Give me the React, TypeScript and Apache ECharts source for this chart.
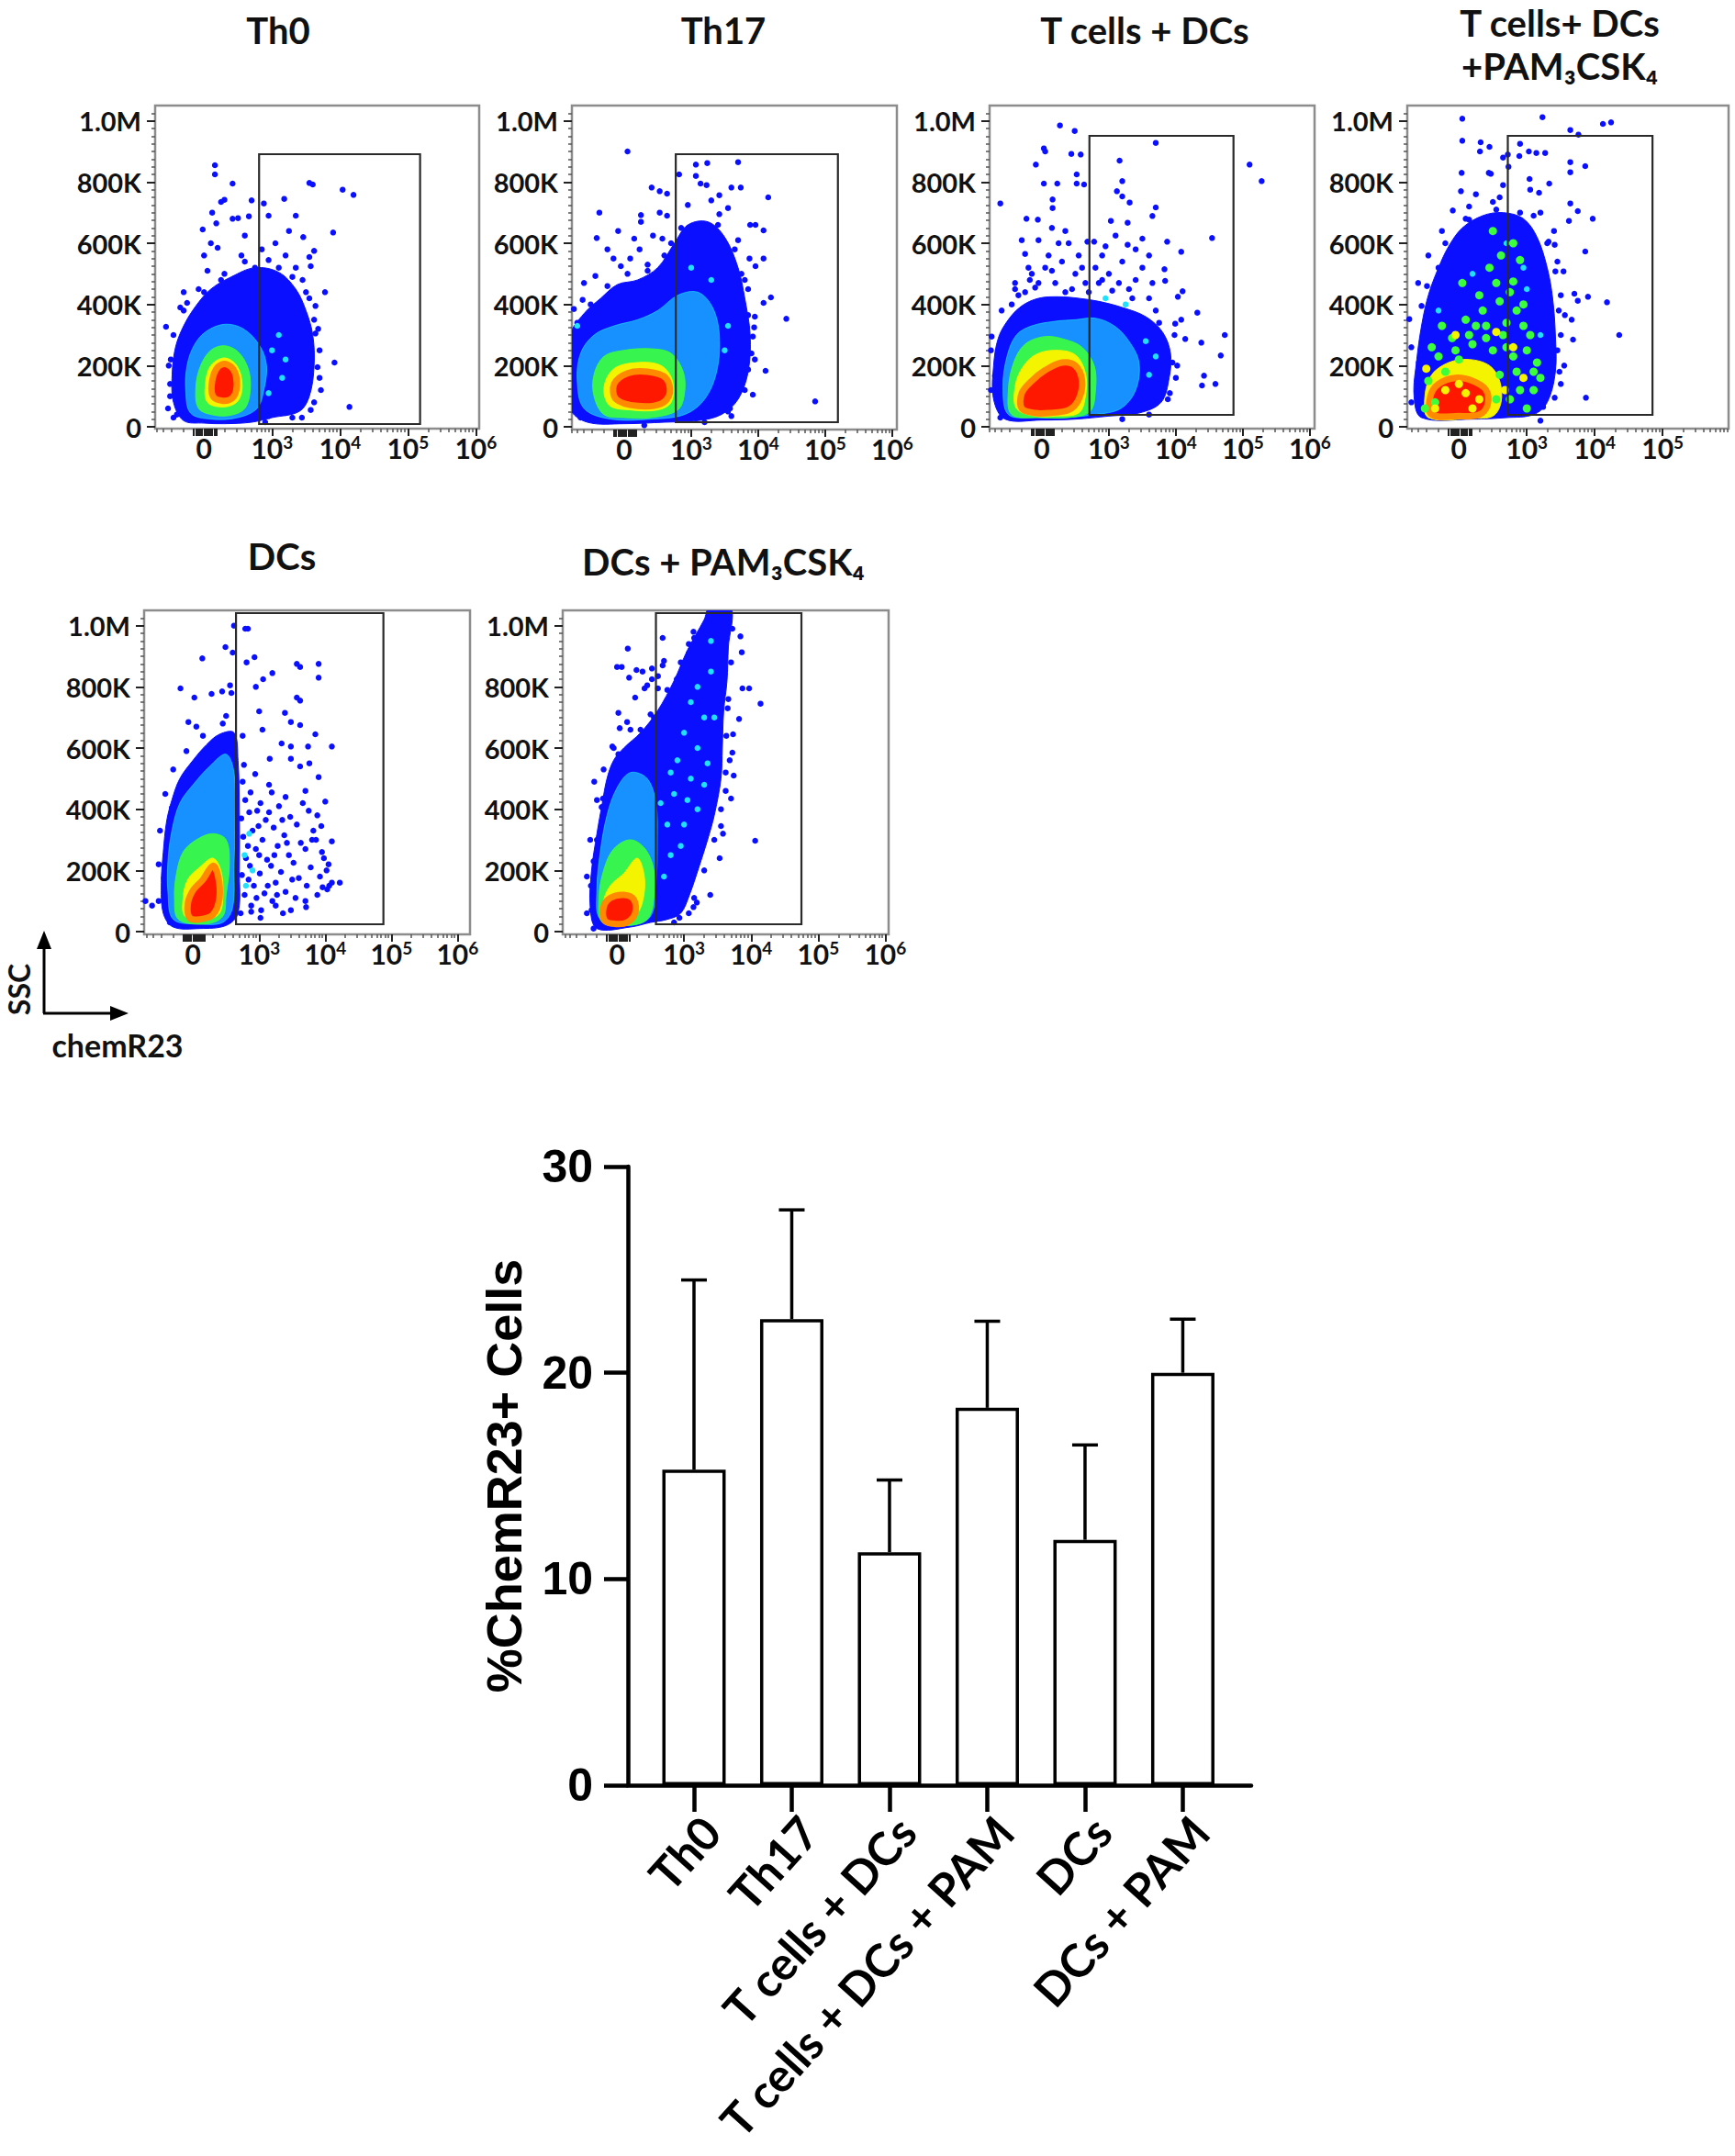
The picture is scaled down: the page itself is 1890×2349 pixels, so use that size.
import React, { useEffect, useRef } from "react";
import * as echarts from "echarts";

const W = 1890;
const H = 2349;
const FLOW_FONT = 'Lato, "Open Sans", "DejaVu Sans", sans-serif';
const BAR_FONT = '"Liberation Sans", Arial, sans-serif';

// ---------------- Bar chart data ----------------
const barCategories = ["Th0", "Th17", "T cells + DCs", "T cells + DCs + PAM", "DCs", "DCs + PAM"];
const barMeans = [15.3, 22.6, 11.3, 18.3, 11.9, 20.0];
const barErrTops = [24.5, 27.9, 14.8, 22.5, 16.5, 22.6];
const barYTicks = [0, 10, 20, 30];

// ---------------- Flow plot axes ----------------
// x in display decades: 0 -> "0", 1 -> 10^3, 2 -> 10^4, 3 -> 10^5, 4 -> 10^6
const flowXTickValues = [0, 1, 2, 3, 4];
const flowXTickExponents = ["", "3", "4", "5", "6"];
const flowYTickValues = [0, 200, 400, 600, 800, 1000];
const flowYTickLabels = ["0", "200K", "400K", "600K", "800K", "1.0M"];

// ---------------- Panel titles ----------------
const panelTitles = [
  { text: "Th0", x: 303, y: 33 },
  { text: "Th17", x: 788, y: 33 },
  { text: "T cells + DCs", x: 1247, y: 33 },
  { text: "T cells+ DCs", x: 1699, y: 25 },
  { text: "+PAM₃CSK₄", x: 1699, y: 72 },
  { text: "DCs", x: 307, y: 606 },
  { text: "DCs + PAM₃CSK₄", x: 788, y: 612 },
];

// =====================================================================
// Each panel: gate [x1, y1, x2, y2]; density contours (blue..red) as outlines;
// individual events as dots. x in display decades, y in K.
// =====================================================================

// ---------------- Th0 ----------------
const th0Gate = [0.81, 9, 3.18, 891];
const th0Blue = [[-0.3, 20], [-0.45, 80], [-0.47, 170], [-0.42, 260], [-0.3, 330], [-0.12, 395], [0.1, 450], [0.4, 490], [0.75, 520], [1.1, 505], [1.35, 450], [1.5, 380], [1.6, 300], [1.62, 200], [1.55, 100], [1.4, 50], [1.0, 30], [0.7, 15], [0.3, 10], [0.0, 12]];
const th0Cyan = [[-0.2, 45], [-0.27, 120], [-0.25, 200], [-0.15, 265], [0.02, 310], [0.3, 335], [0.58, 320], [0.82, 265], [0.92, 200], [0.88, 120], [0.78, 60], [0.5, 30], [0.1, 25]];
const th0Green = [[-0.08, 60], [-0.12, 130], [-0.05, 200], [0.1, 250], [0.3, 265], [0.5, 245], [0.65, 190], [0.68, 120], [0.6, 60], [0.4, 38], [0.15, 38]];
const th0Yellow = [[0.05, 80], [0.02, 140], [0.1, 200], [0.3, 225], [0.48, 200], [0.56, 140], [0.5, 85], [0.3, 65]];
const th0Red = [[0.13, 100], [0.12, 150], [0.2, 195], [0.32, 205], [0.45, 180], [0.48, 130], [0.42, 95], [0.28, 85]];
const th0Dots = [
  [0.16, 855], [0.16, 825], [0.42, 795], [1.55, 797], [1.6, 792], [2.04, 775], [2.2, 758], [1.18, 745],
  [0.88, 730], [0.25, 735], [0.3, 742], [0.42, 680], [0.5, 682], [0.66, 688], [0.95, 690], [1.35, 690],
  [1.9, 635], [1.46, 620], [-0.02, 645], [0.1, 600], [0.2, 585], [0.55, 560], [0.85, 580], [1.05, 600],
  [1.2, 560], [1.55, 555], [1.62, 575], [1.35, 520], [0.05, 510], [0.25, 480], [-0.08, 450], [1.45, 480],
  [1.5, 440], [-0.56, 327], [-0.49, 220], [-0.53, 60], [1.92, 210], [2.14, 65], [1.2, 45], [1.44, 30],
  [1.57, 55], [1.64, 305], [1.67, 195], [1.64, 395], [1.57, 525], [-0.35, 390], [-0.25, 405], [1.7, 250],
  [1.72, 120], [-0.5, 140], [0.0, 560], [0.6, 625], [1.25, 640], [0.7, 740], [0.12, 700], [0.18, 665],
  [-0.1, 380], [1.62, 350], [1.1, 520], [0.75, 520], [0.45, 460], [-0.3, 440], [1.3, 140], [1.45, 95],
  [0.95, 35], [-0.45, 30], [1.78, 440],
  [-0.5, 100], [-0.52, 200], [-0.45, 300], [-0.3, 380], [0.0, 440], [0.3, 500], [0.6, 540], [0.95, 545],
  [1.3, 490], [1.55, 420], [1.68, 320], [1.7, 160], [1.62, 80], [1.3, 30], [0.9, 15], [-0.4, 40],
];
const th0CyanDots = [[1.0, 250], [1.15, 160], [0.95, 110], [1.1, 300], [1.2, 220]];

// ---------------- Th17 ----------------
const th17Gate = [0.77, 15, 3.19, 891];
const th17Blue = [[-0.55, 15], [-0.8, 60], [-0.8, 300], [-0.6, 370], [-0.35, 420], [-0.1, 465], [0.2, 480], [0.5, 520], [0.75, 600], [0.95, 660], [1.25, 670], [1.5, 620], [1.7, 520], [1.8, 420], [1.88, 300], [1.85, 180], [1.7, 90], [1.45, 40], [1.1, 20], [0.6, 15], [0.0, 10]];
const th17Cyan = [[-0.6, 60], [-0.7, 150], [-0.65, 240], [-0.45, 300], [-0.15, 330], [0.2, 350], [0.5, 380], [0.8, 430], [1.1, 440], [1.32, 390], [1.42, 300], [1.38, 180], [1.2, 90], [0.9, 40], [0.4, 25], [-0.2, 25]];
const th17Green = [[-0.3, 40], [-0.45, 100], [-0.45, 170], [-0.3, 230], [0.0, 250], [0.4, 255], [0.7, 240], [0.88, 180], [0.9, 110], [0.8, 55], [0.4, 30], [0.0, 30]];
const th17Yellow = [[-0.22, 70], [-0.3, 130], [-0.15, 190], [0.2, 210], [0.55, 200], [0.72, 150], [0.7, 80], [0.5, 55], [0.1, 55]];
const th17Red = [[-0.12, 90], [-0.15, 140], [0.05, 175], [0.35, 180], [0.62, 160], [0.68, 110], [0.55, 75], [0.2, 68]];
const th17Dots = [
  [0.05, 900], [-0.37, 700], [-0.41, 617], [-0.43, 493], [-0.62, 415], [-0.75, 385], [0.41, 782], [0.53, 770],
  [0.64, 762], [1.07, 857], [1.24, 862], [1.7, 865], [1.07, 820], [0.82, 825], [1.14, 795], [1.23, 790],
  [1.42, 757], [1.6, 782], [1.74, 782], [2.15, 750], [0.25, 692], [0.25, 670], [0.53, 700], [0.64, 690],
  [0.43, 625], [0.57, 615], [1.96, 660], [1.88, 660], [2.08, 642], [2.08, 550], [1.96, 525], [1.87, 550],
  [2.19, 423], [2.08, 405], [2.42, 353], [1.85, 365], [1.94, 325], [1.92, 295], [1.85, 187], [2.11, 183],
  [1.92, 105], [2.85, 83], [1.58, 60], [1.6, 35], [-0.05, 20], [-0.32, 30], [-0.09, 640], [0.09, 550],
  [-0.16, 550], [-0.05, 525], [0.23, 580], [1.42, 695], [1.55, 715], [0.7, 600], [0.15, 615], [-0.25, 580],
  [0.35, 530], [1.7, 610], [1.75, 500], [1.85, 450], [1.9, 240], [-0.6, 470], [0.95, 725], [1.3, 740],
  [-0.7, 340], [-0.5, 400], [-0.25, 460], [0.05, 500], [0.35, 510], [0.6, 560], [0.85, 650], [1.4, 660],
  [1.65, 580], [1.8, 480], [1.95, 360], [1.95, 220], [1.8, 120], [1.55, 50], [1.2, 15], [0.3, 5], [-0.65, 30],
];
const th17CyanDots = [[1.5, 250], [1.55, 330], [1.3, 480], [1.0, 520], [-0.7, 330]];

// ---------------- T cells + DCs ----------------
const tdcGate = [0.71, 39, 2.86, 951];
const tdcBlue = [[-0.55, 25], [-0.72, 90], [-0.72, 200], [-0.65, 290], [-0.5, 350], [-0.3, 395], [-0.05, 420], [0.25, 425], [0.55, 420], [0.85, 410], [1.2, 390], [1.55, 360], [1.8, 310], [1.92, 240], [1.9, 160], [1.78, 80], [1.45, 45], [1.0, 35], [0.5, 25], [0.0, 22]];
const tdcCyan = [[-0.5, 40], [-0.58, 130], [-0.52, 230], [-0.38, 300], [-0.15, 330], [0.2, 345], [0.5, 350], [0.8, 355], [1.08, 330], [1.3, 280], [1.45, 210], [1.4, 120], [1.18, 60], [0.8, 40], [0.3, 30], [-0.1, 30]];
const tdcGreen = [[-0.45, 40], [-0.5, 120], [-0.42, 210], [-0.25, 270], [0.05, 295], [0.35, 285], [0.6, 260], [0.78, 200], [0.8, 120], [0.72, 50], [0.4, 30], [0.0, 30]];
const tdcYellow = [[-0.38, 60], [-0.4, 130], [-0.3, 190], [-0.1, 235], [0.2, 250], [0.5, 235], [0.65, 175], [0.65, 100], [0.55, 45], [0.2, 35], [-0.1, 35]];
const tdcRed = [[-0.3, 60], [-0.3, 110], [-0.15, 150], [0.05, 185], [0.3, 210], [0.5, 200], [0.6, 150], [0.55, 90], [0.4, 55], [0.1, 45], [-0.1, 45]];
const tdcDots = [
  [0.27, 985], [0.49, 967], [0.03, 910], [0.05, 900], [-0.09, 857], [0.44, 892], [0.58, 890], [0.52, 825],
  [0.52, 795], [0.63, 792], [0.03, 795], [0.23, 795], [-0.62, 730], [0.16, 743], [0.16, 715], [-0.23, 680],
  [-0.06, 677], [1.7, 928], [1.16, 870], [1.2, 803], [1.12, 770], [1.2, 753], [1.31, 733], [1.7, 717],
  [1.65, 689], [1.03, 673], [1.28, 667], [3.1, 857], [3.28, 803], [2.54, 617], [2.08, 572], [1.83, 515],
  [1.84, 477], [2.1, 443], [2.03, 425], [2.32, 373], [2.08, 350], [1.99, 337], [2.14, 287], [2.38, 275],
  [2.73, 300], [2.67, 233], [2.42, 167], [2.39, 135], [2.59, 140], [1.91, 110], [1.74, 140], [1.55, 75],
  [1.37, 60], [-0.7, 167], [-0.6, 140], [-0.75, 295], [-0.57, 255], [-0.46, 345], [-0.25, 565], [-0.2, 520],
  [-0.18, 480], [0.4, 600], [0.68, 605], [0.78, 605], [1.5, 615], [1.87, 605], [1.1, 625], [1.28, 595],
  [1.4, 580], [0.9, 560], [0.1, 560], [0.3, 540], [-0.05, 610], [0.6, 520], [1.5, 520], [1.65, 470],
  [1.6, 560], [0.15, 650], [0.35, 640], [1.0, 500], [1.4, 480], [0.85, 470], [-0.35, 430], [1.95, 210],
  [1.85, 250], [2.0, 160],
  [-0.76, 120], [-0.76, 250], [-0.6, 380], [-0.4, 450], [-0.15, 500], [0.15, 510], [0.5, 500], [0.9, 480],
  [1.3, 450], [1.7, 380], [1.98, 300], [2.02, 200], [1.88, 90], [1.6, 40], [1.2, 25], [-0.62, 30],
  [-0.4, 470], [-0.1, 455], [0.2, 470], [0.45, 450], [0.7, 440], [1.05, 445], [1.35, 420], [-0.25, 440],
  [0.05, 520], [0.55, 560], [0.25, 600], [-0.3, 610], [0.8, 520], [1.2, 540], [0.65, 470], [1.15, 470],
  [-0.45, 400], [0.95, 590], [1.6, 420], [1.75, 340], [0.35, 440], [-0.05, 470],
];
const tdcCyanDots = [[1.6, 170], [1.55, 280], [1.25, 400], [0.95, 420], [1.7, 230]];

// ---------------- T cells + DCs + PAM3CSK4 ----------------
const tdpGate = [0.72, 39, 2.85, 951];
const tdpBlue = [[-0.55, 30], [-0.66, 100], [-0.62, 220], [-0.55, 330], [-0.45, 430], [-0.3, 520], [-0.15, 590], [0.05, 650], [0.35, 690], [0.65, 700], [0.95, 680], [1.15, 620], [1.3, 520], [1.38, 420], [1.42, 300], [1.42, 180], [1.3, 80], [1.1, 40], [0.7, 30], [0.2, 25]];
const tdpCyan: number[][] = [];
const tdpGreen: number[][] = [];
const tdpYellow = [[-0.45, 30], [-0.5, 100], [-0.4, 170], [-0.15, 210], [0.15, 220], [0.45, 200], [0.6, 150], [0.62, 80], [0.5, 35], [0.2, 28]];
const tdpRed = [[-0.4, 40], [-0.42, 100], [-0.3, 140], [-0.05, 160], [0.2, 150], [0.4, 120], [0.42, 70], [0.3, 40], [0.0, 35]];
const tdpDots = [
  [0.05, 1007], [1.23, 1012], [2.12, 990], [2.24, 995], [1.64, 970], [1.76, 955], [0.05, 935], [0.32, 930],
  [0.45, 915], [0.31, 900], [0.47, 827], [0.65, 880], [0.72, 890], [0.9, 925], [1.03, 900], [1.14, 895],
  [1.27, 895], [0.89, 885], [0.73, 850], [0.04, 830], [0.03, 770], [0.44, 830], [0.65, 790], [1.04, 810],
  [1.05, 775], [1.18, 765], [1.33, 795], [1.64, 865], [1.86, 852], [1.64, 832], [-0.09, 707], [0.15, 677],
  [0.17, 650], [0.1, 680], [0.55, 710], [1.64, 730], [1.75, 705], [1.97, 680], [1.62, 673], [1.86, 573],
  [1.32, 605], [1.41, 595], [1.42, 508], [1.54, 508], [1.5, 430], [1.7, 435], [1.75, 412], [1.9, 425],
  [2.18, 407], [1.56, 365], [1.66, 350], [1.68, 285], [2.36, 300], [1.55, 200], [1.48, 180], [1.41, 95],
  [1.87, 95], [1.24, 65], [1.03, 65], [0.88, 70], [-0.73, 352], [-0.47, 460], [-0.39, 410], [-0.37, 430],
  [-0.55, 395], [-0.59, 210], [-0.62, 115], [0.25, 760], [0.9, 700], [1.2, 700], [0.6, 750], [1.4, 640],
  [1.45, 540], [-0.2, 600], [-0.3, 520], [1.5, 300], [1.45, 250],
  [-0.7, 80], [-0.7, 260], [-0.6, 470], [-0.45, 560], [-0.25, 640], [0.15, 720], [0.5, 735], [1.1, 690],
  [1.3, 600], [1.47, 380], [1.5, 140], [1.2, 20],
];
const tdpGreenDots = [
  [0.5, 640], [0.62, 560], [0.9, 545], [0.8, 475], [0.3, 430], [0.6, 410], [0.75, 440], [0.95, 400],
  [0.1, 350], [0.4, 330], [0.7, 340], [1.05, 300], [-0.1, 290], [0.2, 270], [0.5, 250], [0.8, 230],
  [1.1, 180], [-0.3, 230], [0.0, 220], [0.6, 170], [0.9, 120], [-0.45, 150], [-0.35, 80], [0.55, 90],
  [1.15, 210], [1.2, 160], [0.35, 380], [0.65, 300], [0.85, 180], [-0.2, 180], [0.25, 330], [1.0, 250],
  [0.75, 90], [-0.5, 60], [0.05, 470], [0.45, 520], [0.8, 600], [-0.25, 330], [1.0, 60], [0.85, 380],
  [-0.4, 260], [0.15, 300], [0.7, 260], [1.1, 120], [0.4, 290], [-0.05, 250], [0.95, 330], [0.55, 470],
];
const tdpYellowDots = [[-0.2, 120], [0.1, 110], [0.3, 90], [-0.35, 60], [0.2, 60], [0.0, 140], [0.8, 260], [0.95, 160], [0.55, 310], [-0.05, 300], [0.3, 200], [0.68, 120], [-0.48, 190]];
const tdpCyanDots = [[0.2, 500], [0.7, 600], [1.0, 450], [-0.3, 380], [0.95, 520], [1.2, 300]];

// ---------------- DCs ----------------
const dcGate = [0.65, 24, 2.88, 1041];
const dcBlue = [[-0.3, 15], [-0.45, 60], [-0.48, 160], [-0.45, 260], [-0.4, 360], [-0.32, 430], [-0.2, 500], [0.0, 560], [0.2, 610], [0.4, 645], [0.62, 650], [0.68, 560], [0.7, 400], [0.7, 200], [0.68, 60], [0.5, 20], [0.1, 10]];
const dcCyan = [[-0.3, 40], [-0.38, 130], [-0.38, 230], [-0.32, 330], [-0.2, 420], [0.0, 480], [0.25, 540], [0.5, 580], [0.62, 520], [0.64, 380], [0.62, 220], [0.6, 80], [0.45, 30], [0.1, 25]];
const dcGreen = [[-0.22, 40], [-0.28, 110], [-0.25, 190], [-0.15, 260], [0.05, 300], [0.3, 320], [0.5, 300], [0.55, 220], [0.5, 120], [0.45, 50], [0.2, 25]];
const dcYellow = [[-0.12, 50], [-0.15, 110], [-0.08, 170], [0.1, 210], [0.3, 240], [0.42, 200], [0.45, 120], [0.4, 60], [0.2, 40]];
const dcRed = [[-0.05, 45], [-0.08, 90], [0.0, 135], [0.15, 170], [0.3, 215], [0.38, 180], [0.4, 110], [0.3, 55], [0.1, 40]];
const dcDots = [
  [2.22, 160], [2.1, 605], [1.85, 645], [1.9, 875], [1.57, 875], [1.62, 865], [1.9, 830], [1.62, 755],
  [1.57, 765], [1.2, 845], [1.06, 825], [0.95, 800], [0.81, 880], [0.93, 897], [0.79, 990], [0.83, 990],
  [0.49, 930], [0.6, 912], [0.14, 893], [-0.19, 795], [0.02, 765], [0.28, 777], [0.44, 785], [0.56, 805],
  [0.58, 780], [-0.07, 685], [0.05, 670], [1.39, 715], [1.48, 685], [1.62, 675], [1.34, 615], [1.48, 605],
  [1.74, 605], [1.48, 565], [1.62, 540], [1.76, 550], [1.9, 505], [1.16, 565], [-0.32, 405], [-0.3, 355],
  [-0.44, 175], [-0.62, 85], [-0.72, 100], [2.1, 295], [1.94, 345], [2.0, 425], [1.88, 380], [2.1, 160],
  [2.03, 138], [1.96, 145], [1.71, 80], [1.48, 70], [1.25, 85], [1.02, 45], [0.88, 65], [0.62, 1000],
  [1.0, 720], [0.75, 640], [1.05, 660], [1.7, 460], [1.95, 260], [2.05, 220], [1.8, 300], [1.7, 100],
  [0.72, 60], [0.78, 120], [0.74, 185], [0.8, 240], [0.76, 310], [0.73, 370], [0.79, 430], [0.75, 490], [0.77, 545],
  [0.88, 85], [0.92, 150], [0.86, 215], [0.95, 270], [0.9, 330], [0.97, 395], [0.87, 455], [0.94, 515],
  [1.03, 70], [1.08, 125], [1.01, 190], [1.12, 235], [1.05, 300], [1.1, 365], [1.02, 420], [1.15, 480],
  [1.2, 100], [1.25, 160], [1.18, 215], [1.28, 280], [1.22, 340], [1.3, 410], [1.19, 455],
  [1.36, 60], [1.4, 130], [1.33, 195], [1.45, 250], [1.38, 315], [1.47, 375], [1.4, 440],
  [1.55, 110], [1.6, 175], [1.52, 225], [1.63, 290], [1.57, 350], [1.66, 420],
  [1.72, 150], [1.78, 210], [1.7, 270], [1.82, 330], [1.75, 395], [1.88, 120], [1.92, 180], [1.98, 240],
  [1.86, 300], [2.02, 200], [2.06, 150], [0.83, 280], [1.0, 250], [1.35, 365], [1.15, 390], [0.85, 390],
  [1.27, 120], [1.5, 170], [0.96, 110], [1.13, 150], [0.84, 170], [1.23, 250], [0.99, 345], [1.42, 290],
  [-0.52, 100], [-0.52, 220], [-0.5, 330], [-0.42, 450], [-0.3, 530], [-0.1, 590], [0.15, 640], [0.45, 680],
  [0.5, 705], [-0.35, 30],
];
const dcCyanDots = [[0.78, 250], [0.8, 150], [0.9, 200], [0.85, 320]];

// ---------------- DCs + PAM3CSK4 ----------------
const dcpGate = [0.58, 24, 2.75, 1041];
const dcpBlue = [[-0.3, 10], [-0.4, 80], [-0.38, 200], [-0.3, 320], [-0.22, 420], [-0.15, 500], [-0.05, 560], [0.1, 600], [0.35, 650], [0.6, 720], [0.85, 820], [1.05, 920], [1.3, 1020], [1.38, 1060], [1.7, 1060], [1.66, 930], [1.64, 820], [1.59, 720], [1.57, 600], [1.55, 500], [1.45, 380], [1.35, 300], [1.22, 210], [1.08, 120], [0.95, 60], [0.75, 40], [0.5, 30], [0.2, 15]];
const dcpCyan = [[-0.25, 40], [-0.3, 140], [-0.25, 260], [-0.15, 380], [0.0, 470], [0.2, 520], [0.45, 500], [0.58, 420], [0.6, 300], [0.58, 150], [0.5, 50], [0.2, 20]];
const dcpGreen = [[-0.22, 30], [-0.27, 110], [-0.2, 200], [-0.05, 270], [0.2, 300], [0.42, 270], [0.55, 200], [0.55, 110], [0.45, 40], [0.15, 20]];
const dcpYellow = [[-0.18, 40], [-0.2, 100], [-0.1, 150], [0.1, 190], [0.3, 240], [0.4, 190], [0.4, 120], [0.3, 60], [0.05, 35]];
const dcpRed = [[-0.18, 35], [-0.2, 80], [-0.1, 110], [0.1, 120], [0.25, 105], [0.27, 60], [0.15, 30], [-0.02, 25]];
const dcpDots = [
  [0.16, 925], [0.0, 865], [0.07, 865], [0.29, 855], [0.18, 830], [0.38, 850], [0.52, 860], [0.52, 825],
  [0.45, 805], [0.68, 960], [0.7, 885], [0.68, 870], [1.14, 980], [1.32, 955], [1.07, 940], [1.07, 910],
  [1.84, 965], [1.86, 913], [1.87, 795], [1.97, 795], [2.14, 745], [1.82, 695], [1.73, 645], [1.72, 585],
  [1.74, 510], [1.7, 435], [1.55, 345], [1.58, 320], [2.06, 297], [1.53, 240], [1.39, 120], [1.19, 95],
  [1.14, 80], [1.07, 60], [0.93, 45], [-0.34, 490], [-0.23, 407], [-0.21, 435], [-0.39, 150], [0.02, 715],
  [0.04, 665], [0.15, 685], [0.27, 765], [0.41, 795], [0.02, 580], [-0.07, 605], [0.61, 795], [0.61, 835],
  [0.89, 825], [0.98, 815], [0.89, 780], [0.98, 765], [1.02, 745], [1.14, 795], [1.25, 825], [1.3, 850],
  [0.93, 665], [1.04, 695], [0.7, 720], [0.55, 700], [0.78, 650], [1.65, 730], [1.68, 560], [1.62, 460],
  [-0.3, 300], [-0.35, 230], [-0.38, 70], [0.45, 600], [0.35, 660],
  [-0.45, 60], [-0.45, 180], [-0.4, 300], [-0.3, 430], [-0.2, 530], [-0.05, 600], [0.2, 660], [0.5, 710],
  [0.75, 790], [0.95, 880], [1.15, 960], [1.72, 990], [1.7, 880], [1.66, 760], [1.63, 640], [1.62, 520],
  [1.55, 400], [1.45, 300], [1.3, 200], [1.15, 110], [0.85, 30], [-0.35, 10],
];
const dcpCyanDots = [
  [0.8, 250], [1.0, 350], [0.85, 450], [1.1, 500], [0.9, 560], [1.2, 600], [1.0, 650], [1.3, 700],
  [1.2, 800], [1.4, 850], [0.75, 350], [1.2, 400], [0.7, 180], [0.95, 280], [1.35, 550], [1.1, 750],
  [0.65, 420], [1.4, 950], [1.3, 480], [1.05, 430], [0.8, 520], [1.45, 700],
];

const COLORS = { blue: "#0a10ff", cyan: "#1fe0ff", green: "#3cff3c", yellow: "#f4f400", orange: "#ff8a00", red: "#ff1800" };

const PANELS: any[] = [
  { box: [169, 115, 353, 352], xr: [-0.72, 4.05], yr: [-6, 1050], nLabels: 5, gate: th0Gate, blue: th0Blue, cyan: th0Cyan, green: th0Green, yellow: th0Yellow, red: th0Red, dots: th0Dots, cyanDots: th0CyanDots, greenDots: [], yellowDots: [] },
  { box: [623, 115, 354, 353], xr: [-0.78, 4.07], yr: [-9, 1050], nLabels: 5, gate: th17Gate, blue: th17Blue, cyan: th17Cyan, green: th17Green, yellow: th17Yellow, red: th17Red, dots: th17Dots, cyanDots: th17CyanDots, greenDots: [], yellowDots: [] },
  { box: [1078, 115, 354, 352], xr: [-0.78, 4.07], yr: [-6, 1050], nLabels: 5, gate: tdcGate, blue: tdcBlue, cyan: tdcCyan, green: tdcGreen, yellow: tdcYellow, red: tdcRed, dots: tdcDots, cyanDots: tdcCyanDots, greenDots: [], yellowDots: [] },
  { box: [1533, 115, 350, 352], xr: [-0.76, 3.97], yr: [-6, 1050], nLabels: 4, gate: tdpGate, blue: tdpBlue, cyan: tdpCyan, green: tdpGreen, yellow: tdpYellow, red: tdpRed, dots: tdpDots, cyanDots: tdpCyanDots, greenDots: tdpGreenDots, yellowDots: tdpYellowDots },
  { box: [157, 665, 355, 353], xr: [-0.74, 4.19], yr: [-9, 1050], nLabels: 5, gate: dcGate, blue: dcBlue, cyan: dcCyan, green: dcGreen, yellow: dcYellow, red: dcRed, dots: dcDots, cyanDots: dcCyanDots, greenDots: [], yellowDots: [] },
  { box: [613, 665, 355, 353], xr: [-0.81, 4.05], yr: [-9, 1050], nLabels: 5, gate: dcpGate, blue: dcpBlue, cyan: dcpCyan, green: dcpGreen, yellow: dcpYellow, red: dcpRed, dots: dcpDots, cyanDots: dcpCyanDots, greenDots: [], yellowDots: [] },
];

function buildOption() {
  const grids: any[] = [];
  const xAxes: any[] = [];
  const yAxes: any[] = [];
  const series: any[] = [];

  // axis decoration tick positions
  const zeroCluster: number[] = [];
  for (let v = -0.15; v <= 0.19; v += 0.03) zeroCluster.push(Math.round(v * 1000) / 1000);
  const minorX: number[] = [];
  for (const d of [0, 1, 2, 3]) for (let k = 2; k <= 9; k++) minorX.push(d + Math.log10(k));
  for (let k = 2; k <= 9; k++) minorX.push(-Math.log10(k));
  const minorY: number[] = [];
  for (let v = 25; v <= 1045; v += 25) if (v % 200 !== 0) minorY.push(v);

  const xRich = {
    b: { fontFamily: FLOW_FONT, fontWeight: "bold", fontSize: 30, color: "#111", lineHeight: 32 },
    s: { fontFamily: FLOW_FONT, fontWeight: "bold", fontSize: 19, color: "#111", lineHeight: 19, verticalAlign: "top" },
  };

  PANELS.forEach((p, i) => {
    grids.push({
      left: p.box[0], top: p.box[1], width: p.box[2], height: p.box[3],
      show: true, borderColor: "#8c8c8c", borderWidth: 2.5, backgroundColor: "rgba(0,0,0,0)",
      containLabel: false, outerBoundsMode: "none",
    });
    const inRange = (v: number) => v > p.xr[0] && v < p.xr[1];
    const labelVals = flowXTickValues.slice(0, p.nLabels);
    xAxes.push({
      type: "value", gridIndex: i, min: p.xr[0], max: p.xr[1], position: "bottom",
      axisLine: { show: false, onZero: false }, splitLine: { show: false },
      axisTick: { show: true, customValues: zeroCluster.concat(flowXTickValues.slice(1).filter(inRange)), length: 8, lineStyle: { color: "#222", width: 2 } },
      axisLabel: {
        show: true, customValues: labelVals, margin: 5, rich: xRich,
        formatter: (v: number) => {
          const k = Math.round(v);
          return k === 0 ? "{b|0}" : "{b|10}{s|" + flowXTickExponents[k] + "}";
        },
      },
    });
    xAxes.push({
      type: "value", gridIndex: i, min: p.xr[0], max: p.xr[1], position: "bottom",
      axisLine: { show: false, onZero: false }, splitLine: { show: false }, axisLabel: { show: false },
      axisTick: { show: true, customValues: minorX.filter(inRange), length: 4, lineStyle: { color: "#555", width: 1.5 } },
    });
    yAxes.push({
      type: "value", gridIndex: i, min: p.yr[0], max: p.yr[1], position: "left",
      axisLine: { show: false, onZero: false }, splitLine: { show: false },
      axisTick: { show: true, customValues: flowYTickValues, length: 9, lineStyle: { color: "#222", width: 2 } },
      axisLabel: {
        show: true, customValues: flowYTickValues,
        formatter: (v: number) => flowYTickLabels[flowYTickValues.indexOf(v)],
        fontFamily: FLOW_FONT, fontWeight: "bold", fontSize: 29, color: "#111", margin: 15,
      },
    });
    yAxes.push({
      type: "value", gridIndex: i, min: p.yr[0], max: p.yr[1], position: "left",
      axisLine: { show: false, onZero: false }, splitLine: { show: false }, axisLabel: { show: false },
      axisTick: { show: true, customValues: minorY, length: 4, lineStyle: { color: "#555", width: 1.5 } },
    });
    const ax = 2 * i;
    const region = (outline: number[][], fill: string, z: number, opacity: number, stroke?: string, strokeW?: number) => ({
      type: "custom", xAxisIndex: ax, yAxisIndex: ax, z, silent: true, clip: true,
      data: outline.length ? [outline[0]] : [],
      renderItem: (params: any, api: any) => ({
        type: "polygon",
        shape: { points: outline.map((pt) => api.coord(pt)), smooth: 0.35 },
        style: { fill, opacity, stroke: stroke || fill, lineWidth: strokeW || 1 },
      }),
    });
    const dots = (data: number[][], color: string, size: number, z: number) => ({
      type: "scatter", xAxisIndex: ax, yAxisIndex: ax, data, symbol: "circle", symbolSize: size,
      itemStyle: { color, opacity: 1 }, z, silent: true, clip: true,
    });
    series.push(region(p.blue, COLORS.blue, 2, 1));
    series.push(dots(p.dots, COLORS.blue, 6.5, 3));
    series.push(region(p.cyan, COLORS.cyan, 4, 0.62));
    series.push(dots(p.cyanDots, COLORS.cyan, 6.5, 4));
    series.push(region(p.green, COLORS.green, 5, 0.9));
    series.push(region(p.yellow, COLORS.yellow, 6, 1));
    series.push(region(p.red, COLORS.red, 7, 1, COLORS.orange, 7));
    series.push(dots(p.greenDots, COLORS.green, 9, 8));
    series.push(dots(p.yellowDots, COLORS.yellow, 9, 8));
    series.push({
      type: "custom", xAxisIndex: ax, yAxisIndex: ax, z: 9, silent: true,
      data: [p.gate], encode: { x: [0, 2], y: [1, 3] },
      renderItem: (params: any, api: any) => {
        const a = api.coord([api.value(0), api.value(3)]);
        const b = api.coord([api.value(2), api.value(1)]);
        return {
          type: "rect",
          shape: { x: a[0], y: a[1], width: b[0] - a[0], height: b[1] - a[1] },
          style: { fill: "none", stroke: "#2a2a2a", lineWidth: 2.2 },
        };
      },
    });
  });

  // -------- bar chart --------
  const bi = PANELS.length;
  grids.push({ left: 684, top: 1271, width: 679, height: 674, containLabel: false, outerBoundsMode: "none" });
  const catIdx = barCategories.map((_, i) => i);
  xAxes.push({
    type: "value", gridIndex: bi, min: -0.676, max: 5.7, position: "bottom",
    axisLine: { show: true, onZero: false, lineStyle: { color: "#000", width: 4.5 } },
    axisTick: { show: true, customValues: catIdx, length: 29, lineStyle: { color: "#000", width: 4.5 } },
    axisLabel: {
      show: true, customValues: catIdx, formatter: (v: number) => barCategories[Math.round(v)],
      rotate: 48, align: "right", verticalAlign: "top",
      fontFamily: FLOW_FONT, fontWeight: "bold", fontSize: 50, color: "#000", margin: 25,
    },
    splitLine: { show: false },
  });
  yAxes.push({
    type: "value", gridIndex: bi, min: 0, max: 30, interval: 10, position: "left",
    axisLine: { show: true, onZero: false, lineStyle: { color: "#000", width: 4.5 } },
    axisTick: { show: true, customValues: barYTicks, length: 26, lineStyle: { color: "#000", width: 4.5 } },
    axisLabel: { show: true, customValues: barYTicks, fontFamily: BAR_FONT, fontWeight: "bold", fontSize: 50, color: "#000", margin: 38 },
    splitLine: { show: false },
    name: "%ChemR23+ Cells", nameLocation: "middle", nameGap: 108,
    nameTextStyle: { fontFamily: BAR_FONT, fontWeight: "bold", fontSize: 54, color: "#000" },
  });
  const bax = 2 * PANELS.length;
  series.push({
    type: "bar", xAxisIndex: bax, yAxisIndex: bax, barWidth: 69, silent: true, z: 2,
    data: barMeans.map((v, i) => [i, v]),
    itemStyle: { color: "#fff", borderColor: "#000", borderWidth: 3.5 },
  });
  series.push({
    type: "custom", xAxisIndex: bax, yAxisIndex: bax, z: 3, silent: true,
    data: barMeans.map((v, i) => [i, v, barErrTops[i]]),
    encode: { x: 0, y: [1, 2] },
    renderItem: (params: any, api: any) => {
      const lo = api.coord([api.value(0), api.value(1)]);
      const hi = api.coord([api.value(0), api.value(2)]);
      const half = 14;
      return {
        type: "group",
        children: [
          { type: "line", shape: { x1: lo[0], y1: lo[1], x2: hi[0], y2: hi[1] }, style: { stroke: "#000", lineWidth: 3.5 } },
          { type: "line", shape: { x1: hi[0] - half, y1: hi[1], x2: hi[0] + half, y2: hi[1] }, style: { stroke: "#000", lineWidth: 3.5 } },
        ],
      };
    },
  });

  const textStyle = (text: string, size: number) => ({
    text, fontFamily: FLOW_FONT, fontWeight: "bold", fontSize: size, fill: "#111",
    align: "center", verticalAlign: "middle", textAlign: "center", textVerticalAlign: "middle",
  });
  const graphic: any[] = panelTitles.map((t) => ({ type: "text", x: t.x, y: t.y, silent: true, style: textStyle(t.text, 40) }));
  graphic.push(
    { type: "line", silent: true, shape: { x1: 48, y1: 1104, x2: 48, y2: 1030 }, style: { stroke: "#000", lineWidth: 3 } },
    { type: "polygon", silent: true, shape: { points: [[48, 1014], [40, 1034], [56, 1034]] }, style: { fill: "#000" } },
    { type: "line", silent: true, shape: { x1: 47, y1: 1104, x2: 124, y2: 1104 }, style: { stroke: "#000", lineWidth: 3 } },
    { type: "polygon", silent: true, shape: { points: [[140, 1104], [120, 1096], [120, 1112]] }, style: { fill: "#000" } },
    { type: "text", x: 20, y: 1078, rotation: Math.PI / 2, silent: true, style: textStyle("SSC", 32) },
    { type: "text", x: 128, y: 1138, silent: true, style: textStyle("chemR23", 34) }
  );

  return {
    animation: false,
    backgroundColor: "#ffffff",
    grid: grids,
    xAxis: xAxes,
    yAxis: yAxes,
    series,
    graphic,
  };
}

export default function App() {
  const ref = useRef<HTMLDivElement>(null);
  useEffect(() => {
    if (!ref.current) return;
    const chart = echarts.init(ref.current, null, { renderer: "svg", width: W, height: H });
    chart.setOption(buildOption() as any);
    return () => chart.dispose();
  }, []);
  return (
    <div
      ref={ref}
      style={{ position: "absolute", left: 0, top: 0, width: W, height: H, background: "#fff" }}
    />
  );
}
